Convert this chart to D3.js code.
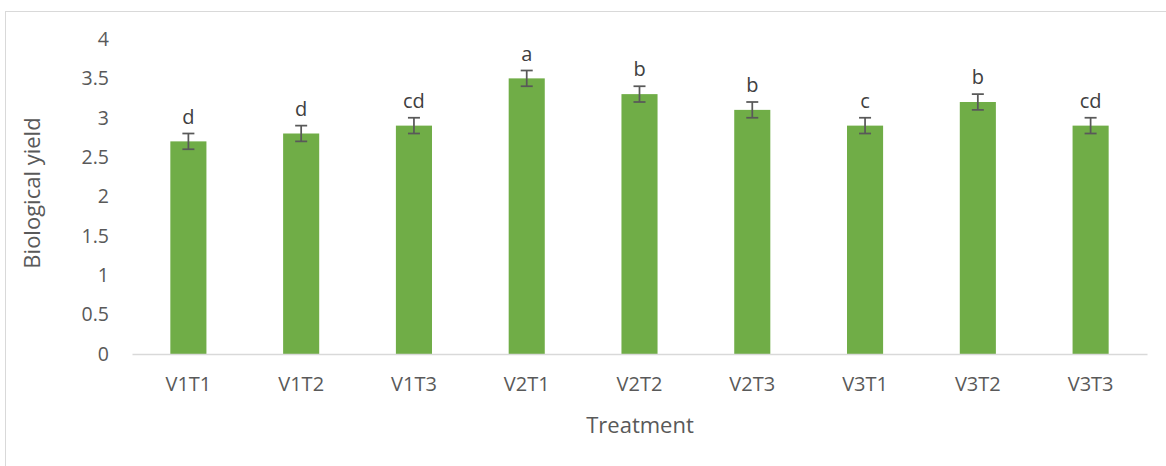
<!DOCTYPE html>
<html><head><meta charset="utf-8">
<script src="https://cdn.jsdelivr.net/npm/d3@7"></script>
<style>body{margin:0;background:#fff}svg{display:block}</style>
</head><body>
<svg id="chart" width="1166" height="466"></svg>
<script>
const categories = ["V1T1","V1T2","V1T3","V2T1","V2T2","V2T3","V3T1","V3T2","V3T3"];
const values = [2.7,2.8,2.9,3.5,3.3,3.1,2.9,3.2,2.9];
const errors = [0.1,0.1,0.1,0.1,0.1,0.1,0.1,0.1,0.1];
const letters = ["d","d","cd","a","b","b","c","b","cd"];
const yTicks = [0,0.5,1,1.5,2,2.5,3,3.5,4];
const xTitle = "Treatment";
const yTitle = "Biological yield";

const svg = d3.select("#chart");
const font = "'Open Sans', sans-serif";
// chart border
svg.append("rect").attr("x",5.5).attr("y",11.5).attr("width",1170).attr("height",470)
  .attr("fill","#fff").attr("stroke","#d9d9d9").attr("stroke-width",1);

const m = {left:132, right:1147, top:39, bottom:354};
const x = d3.scaleBand().domain(categories).range([m.left,m.right]).paddingInner(0.68).paddingOuter(0.34);
const y = d3.scaleLinear().domain([0,4]).range([m.bottom,m.top]);

// y axis labels
const yAxis = d3.axisLeft(y).tickValues(yTicks).tickSize(0).tickPadding(23).tickFormat(d3.format("~g"));
const gy = svg.append("g").attr("transform",`translate(${m.left},0)`).call(yAxis);
gy.select(".domain").remove();
gy.selectAll("text").attr("font-family",font).attr("font-size",19.5).attr("fill","#595959");

// bars
svg.selectAll("rect.bar").data(values).join("rect").attr("class","bar")
  .attr("x",(d,i)=>x(categories[i])).attr("width",x.bandwidth())
  .attr("y",d=>y(d)).attr("height",d=>y(0)-y(d)).attr("fill","#70ad47");

// x axis
const xAxis = d3.axisBottom(x).tickSize(0).tickPadding(23);
const gx = svg.append("g").attr("transform",`translate(0,${m.bottom})`).call(xAxis);
gx.select(".domain").attr("stroke","#d9d9d9").attr("stroke-width",1.5);
gx.selectAll("text").attr("font-family",font).attr("font-size",20).attr("fill","#595959");

// error bars
const eb = svg.append("g").attr("stroke","#595959").attr("stroke-width",1.75).attr("fill","none");
values.forEach((v,i)=>{
  const cx = x(categories[i]) + x.bandwidth()/2;
  const t = y(v+errors[i]), b = y(v-errors[i]);
  eb.append("line").attr("x1",cx).attr("x2",cx).attr("y1",t).attr("y2",b);
  eb.append("line").attr("x1",cx-6).attr("x2",cx+6).attr("y1",t).attr("y2",t);
  eb.append("line").attr("x1",cx-6).attr("x2",cx+6).attr("y1",b).attr("y2",b);
});

// letters
svg.selectAll("text.lbl").data(letters).join("text").attr("class","lbl")
  .attr("x",(d,i)=>x(categories[i])+x.bandwidth()/2)
  .attr("y",(d,i)=>y(values[i]+errors[i])-10)
  .attr("text-anchor","middle").attr("font-family",font).attr("font-size",20).attr("fill","#404040")
  .text(d=>d);

// titles
svg.append("text").attr("x",640).attr("y",433).attr("text-anchor","middle")
  .attr("font-family",font).attr("font-size",22).attr("fill","#595959").text(xTitle);
svg.append("text").attr("transform",`translate(40,193) rotate(-90)`).attr("text-anchor","middle")
  .attr("font-family",font).attr("font-size",22).attr("fill","#595959").text(yTitle);
</script>
</body></html>
